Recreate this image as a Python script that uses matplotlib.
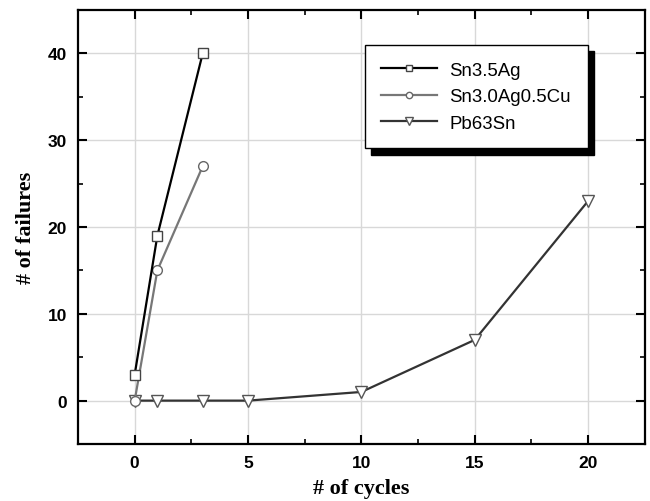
import numpy as np
import matplotlib
matplotlib.use("Agg")
import matplotlib.pyplot as plt
from matplotlib.ticker import MultipleLocator

plt.rcParams.update({
    "font.family": ["Liberation Sans", "DejaVu Sans"],
    "xtick.direction": "in", "ytick.direction": "in",
    "xtick.top": True, "ytick.right": True,
})

# data
sn_ag_x = [0, 1, 3]
sn_ag_y = [3, 19, 40]
sac_x = [0, 1, 3]
sac_y = [0, 15, 27]
pb_x = [0, 1, 3, 5, 10, 15, 20]
pb_y = [0, 0, 0, 0, 1, 7, 23]

fig = plt.figure(figsize=(6.5, 5.02), dpi=100)
ax = fig.add_axes([0.12, 0.1135, 0.872, 0.8645])

mk = dict(markersize=7, markerfacecolor="white", markeredgewidth=1.0)
ax.plot(sn_ag_x, sn_ag_y, "-s", color="black", lw=1.6, markeredgecolor="#444444",
        label="Sn3.5Ag", zorder=4, **mk)
ax.plot(sac_x, sac_y, "-o", color="#777777", lw=1.6, markeredgecolor="#666666",
        label="Sn3.0Ag0.5Cu", zorder=3, **mk)
ax.plot(pb_x, pb_y, "-v", color="#333333", lw=1.6, markeredgecolor="#555555",
        label="Pb63Sn", zorder=2, markersize=8.5, markerfacecolor="white",
        markeredgewidth=1.0)

ax.set_xlim(-2.5, 22.5)
ax.set_ylim(-5, 45)
ax.xaxis.set_major_locator(MultipleLocator(5))
ax.xaxis.set_minor_locator(MultipleLocator(2.5))
ax.yaxis.set_major_locator(MultipleLocator(10))
ax.yaxis.set_minor_locator(MultipleLocator(5))
ax.tick_params(which="major", length=6.5, width=1.5, pad=8, labelsize=12.5)
ax.tick_params(which="minor", length=3.5, width=1.2)
for lab in ax.get_xticklabels() + ax.get_yticklabels():
    lab.set_fontweight("bold")
for sp in ax.spines.values():
    sp.set_linewidth(1.6)
ax.grid(True, which="major", color="#d8d8d8", lw=1.0)
ax.set_axisbelow(True)

ax.set_xlabel("# of cycles", family="Liberation Serif", fontweight="bold",
              fontsize=16, labelpad=6)
ax.set_ylabel("# of failures", family="Liberation Serif", fontweight="bold",
              fontsize=16, labelpad=8)

leg = ax.legend(loc="upper right", bbox_to_anchor=(0.899, 0.919), borderaxespad=0,
                fontsize=13.4, handlelength=3.0, handletextpad=0.65,
                borderpad=0.9, labelspacing=0.5, markerscale=0.65,
                fancybox=False, edgecolor="black", framealpha=1,
                shadow={"ox": 4.5, "oy": -4.5, "facecolor": "black",
                        "edgecolor": "black", "alpha": 1})
leg.get_frame().set_linewidth(1.0)

fig.savefig("out.png", dpi=100)
